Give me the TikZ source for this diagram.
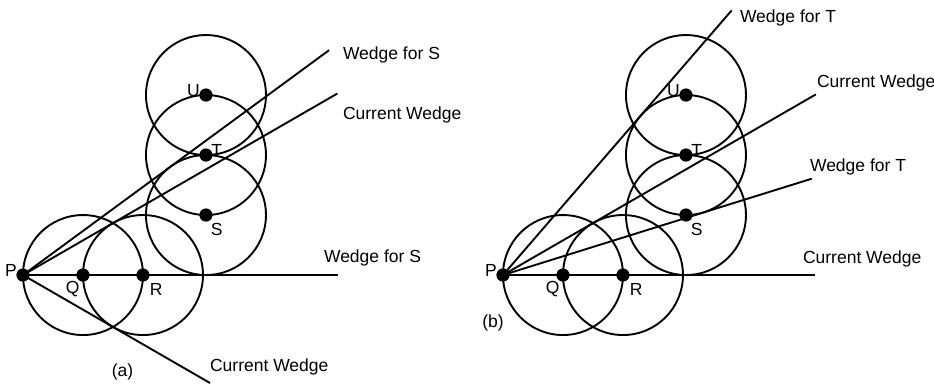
\documentclass[tikz,border=0pt]{standalone}
\usepackage{fontspec}
\setmainfont{Liberation Sans}
\usetikzlibrary{calc,positioning}
\begin{document}
\begin{tikzpicture}[line width=0.9pt,
		dot/.style={circle,fill=black,inner sep=0pt,minimum size=0.22cm},
		lbl/.style={font=\fontsize{8.3}{10}\selectfont,inner sep=1pt},
		wlbl/.style={lbl,anchor=west}]
	\useasboundingbox (0,0) rectangle (15.567,6.417);
	% both panels: points, circles and point labels
	\foreach \pn/\sx in {a/0,b/8} {
		\begin{scope}[shift={(0.383+\sx,1.833)}]
			\foreach \n/\x/\y in {P/0/0,Q/1/0,R/2/0,S/3.05/1,T/3.05/2,U/3.05/3} {
				\node[dot] (\pn\n) at (\x,\y) {};
			}
			% circles of radius 1
			\foreach \n in {Q,R,S,T,U} {
				\draw (\pn\n.center) circle[radius=1];
			}
			% point labels
			\foreach \n/\x/\y in {P/-0.2/0.07,Q/0.83/-0.24,R/2.22/-0.24,S/3.23/0.76,T/3.23/2.08,U/2.84/3.07} {
				\node[lbl] (\pn\n lab) at (\x,\y) {\n};
			}
		\end{scope}
	}
	% panel (a)
	\begin{scope}[shift={(0.383,1.833)}]
		\coordinate (aSup) at (36.3:6.33);
		\coordinate (aCup) at (30:6.05);
		\coordinate (aSlo) at (0:5.25);
		\coordinate (aClo) at (-30:3.6);
		\draw (aP.center) -- (aSup);
		\draw (aP.center) -- (aCup);
		\draw (aP.center) -- (aSlo);
		\draw (aP.center) -- (aClo);
		\node[wlbl] (aSuplab) at (5.283,3.667) {Wedge for S};
		\node[wlbl] (aCuplab) at (5.283,2.667) {Current Wedge};
		\node[wlbl] (aSlolab) at (4.967,0.283) {Wedge for S};
		\node[wlbl] (aClolab) at (3.067,-1.533) {Current Wedge};
		\node[lbl] (acap) at (1.658,-1.617) {(a)};
	\end{scope}
	% panel (b)
	\begin{scope}[shift={(8.383,1.833)}]
		\coordinate (bTup) at (49.17:5.83);
		\coordinate (bCup) at (30:6.02);
		\coordinate (bTlo) at (17.33:5.39);
		\coordinate (bClo) at (0:5.2);
		\draw (bP.center) -- (bTup);
		\draw (bP.center) -- (bCup);
		\draw (bP.center) -- (bTlo);
		\draw (bP.center) -- (bClo);
		\node[wlbl] (bTuplab) at (3.9,4.283) {Wedge for T};
		\node[wlbl] (bCuplab) at (5.183,3.2) {Current Wedge};
		\node[wlbl] (bTlolab) at (5.067,1.8) {Wedge for T};
		\node[wlbl] (bClolab) at (4.95,0.267) {Current Wedge};
		\node[lbl] (bcap) at (-0.167,-0.8) {(b)};
	\end{scope}
\end{tikzpicture}
\end{document}
